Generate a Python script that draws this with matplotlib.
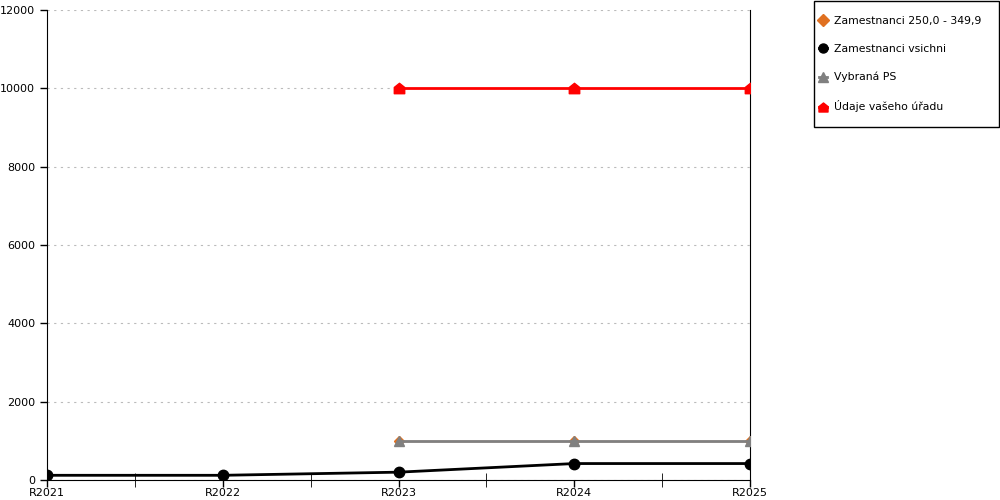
import matplotlib
matplotlib.use('Agg')
import matplotlib.pyplot as plt
from matplotlib.path import Path
from matplotlib.patches import Rectangle
import numpy as np

years = ['R2021', 'R2022', 'R2023', 'R2024', 'R2025']
zam_250 = [np.nan, np.nan, 1000, 1000, 1000]
zam_all = [120, 120, 200, 420, 420]
vybrana_ps = [np.nan, np.nan, 1000, 1000, 1000]
vas_urad = [np.nan, np.nan, 10000, 10000, 10000]

# tvar "domecku" pro marker uradu
house = Path([(-1, -1), (1, -1), (1, 0.2), (0, 1), (-1, 0.2), (-1, -1)],
             [Path.MOVETO, Path.LINETO, Path.LINETO, Path.LINETO, Path.LINETO, Path.CLOSEPOLY])

fig = plt.figure(figsize=(10, 5), dpi=100)
ax = fig.add_axes([0.047, 0.04, 0.703, 0.94])
x = np.arange(len(years))

ax.plot(x, zam_250, color='#e07020', lw=1, marker='D', ms=5.5, label='Zamestnanci 250,0 - 349,9', zorder=3)
ax.plot(x, zam_all, color='black', lw=2, marker='o', ms=7.5, label='Zamestnanci vsichni', zorder=4)
ax.plot(x, vybrana_ps, color='#808080', lw=2, marker='^', ms=7.5, label='Vybraná PS', zorder=5)
ax.plot(x, vas_urad, color='red', lw=2, marker=house, ms=7.5, label='Údaje vašeho úřadu', zorder=6)

ax.set_xlim(0, 4)
ax.set_ylim(0, 12000)
ax.set_xticks(x)
ax.set_xticklabels(years)
ax.set_xticks([0.5, 1.5, 2.5, 3.5], minor=True)
ax.set_yticks(range(0, 12001, 2000))
ax.tick_params(axis='both', labelsize=8, length=5, width=1, color='black')
ax.tick_params(axis='x', which='minor', direction='inout', length=10)
ax.tick_params(axis='x', pad=1)
ax.grid(axis='y', linestyle=(0, (2, 4)), color='#bbbbbb', lw=0.8)
ax.spines['top'].set_visible(False)
for s in ['left', 'bottom', 'right']:
    ax.spines[s].set_color('black')

# ramecek legendy zvlast
fig.patches.append(Rectangle((0.8135, 1 - 127 / 500), 0.1855, 127 / 500 - 0.001,
                             transform=fig.transFigure, facecolor='white',
                             edgecolor='black', lw=1, zorder=0))

leg = fig.legend(loc='upper left', bbox_to_anchor=(0.8187, 0.968), fontsize=7.8,
                 frameon=False, handlelength=0.8, handletextpad=0.61,
                 labelspacing=1.66, borderpad=0, borderaxespad=0)
for h in leg.legend_handles:
    h.set_markersize(6.5)

fig.savefig('out.png', dpi=100)
